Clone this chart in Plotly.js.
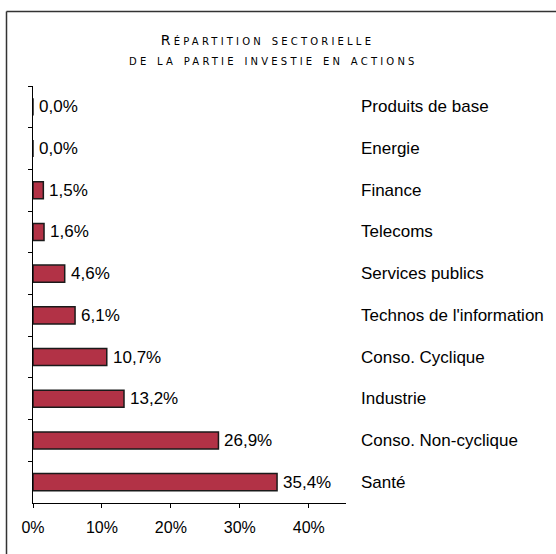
<!DOCTYPE html>
<html>
<head>
<meta charset="utf-8">
<script src="https://cdn.plot.ly/plotly-3.0.1.min.js"></script>
<style>html,body{margin:0;padding:0;background:#fff;}#chart{width:556px;height:554px;}</style>
</head>
<body>
<div id="chart"></div>
<script>
// Data (top to bottom)
var categories = ["Produits de base", "Energie", "Finance", "Telecoms", "Services publics",
  "Technos de l'information", "Conso. Cyclique", "Industrie", "Conso. Non-cyclique", "Santé"];
var values = [0.0, 0.0, 1.5, 1.6, 4.6, 6.1, 10.7, 13.2, 26.9, 35.4];
var valueLabels = ["0,0%", "0,0%", "1,5%", "1,6%", "4,6%", "6,1%", "10,7%", "13,2%", "26,9%", "35,4%"];
var xTickVals = [0, 10, 20, 30, 40];
var xTickText = ["0%", "10%", "20%", "30%", "40%"];
var titleLine1 = 'Répartition sectorielle';
var titleLine2 = 'de la partie investie en actions';

var W = 556, H = 554;
var mL = 33, mR = 210, mT = 86, mB = 51;
var pw = W - mL - mR, ph = H - mT - mB;
function px2x(px) { return (px - mL) / pw; }
function py2y(py) { return (H - mB - py) / ph; }
function spaced(s) { return '<span style="letter-spacing:3.2px">' + s + '</span>'; }

var txtFont = {family: 'Liberation Sans, Arial, sans-serif', size: 17, color: '#000'};
var titleFont = {family: 'DejaVu Sans, sans-serif', size: 14, color: '#000', variant: 'small-caps'};

var trace = {
  type: 'bar',
  orientation: 'h',
  y: categories,
  x: values,
  marker: {color: '#B23246', line: {color: '#1a1a1a', width: 1.5}},
  hoverinfo: 'none'
};

var annotations = [];
categories.forEach(function (c, i) {
  annotations.push({
    xref: 'paper', yref: 'y', x: px2x(359), y: c, text: c, showarrow: false,
    xanchor: 'left', yanchor: 'middle', font: txtFont
  });
  annotations.push({
    xref: 'x', yref: 'y', x: values[i], y: c, text: valueLabels[i], showarrow: false,
    xanchor: 'left', yanchor: 'middle', xshift: 4, font: txtFont
  });
});
annotations.push({
  xref: 'paper', yref: 'paper', x: px2x(273), y: py2y(60), text: spaced(titleLine2), showarrow: false,
  xanchor: 'center', yanchor: 'middle', font: titleFont
});

var layout = {
  width: W, height: H,
  margin: {l: mL, r: mR, t: mT, b: mB, pad: 0},
  paper_bgcolor: '#fff', plot_bgcolor: '#fff',
  showlegend: false,
  bargap: 0.59,
  title: {
    text: spaced(titleLine1),
    font: titleFont,
    x: 267.5 / W, xanchor: 'center', xref: 'container',
    y: 1 - 40 / H, yanchor: 'middle', yref: 'container'
  },
  xaxis: {
    range: [0, 45.4], showgrid: false, zeroline: false,
    showline: true, linecolor: '#000', linewidth: 1,
    ticks: 'outside', ticklen: 4, tickcolor: '#000',
    tickvals: xTickVals, ticktext: xTickText, ticklabelstandoff: 6,
    tickfont: {family: 'Liberation Sans, Arial, sans-serif', size: 16, color: '#000'}
  },
  yaxis: {
    autorange: 'reversed', showgrid: false, zeroline: false,
    showline: true, linecolor: '#000', linewidth: 1,
    ticks: 'outside', ticklen: 4, tickcolor: '#000', tickson: 'boundaries',
    showticklabels: false
  },
  annotations: annotations,
  shapes: [
    {type: 'line', xref: 'paper', yref: 'paper', x0: px2x(6.5), x1: px2x(560), y0: py2y(11.5), y1: py2y(11.5),
      line: {color: '#333', width: 1.5}},
    {type: 'line', xref: 'paper', yref: 'paper', x0: px2x(6.5), x1: px2x(6.5), y0: py2y(11.5), y1: py2y(560),
      line: {color: '#333', width: 1.5}}
  ]
};

Plotly.newPlot('chart', [trace], layout, {displayModeBar: false, staticPlot: true});
</script>
</body>
</html>
